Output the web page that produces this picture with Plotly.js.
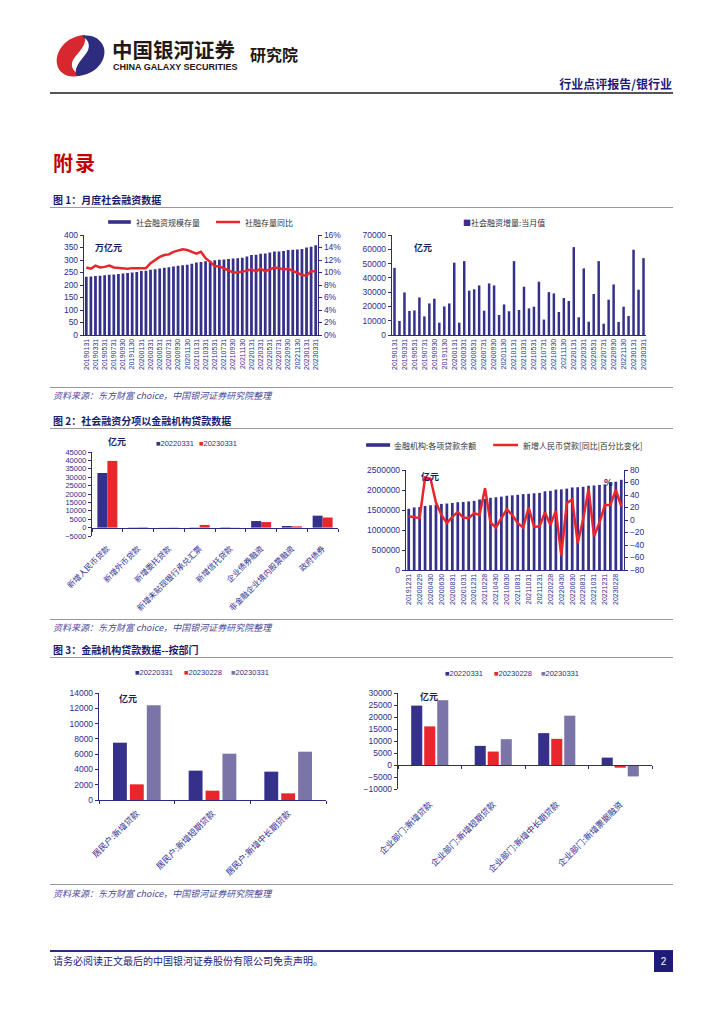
<!DOCTYPE html>
<html><head><meta charset="utf-8">
<script src="https://cdn.plot.ly/plotly-3.0.1.min.js"></script>
<style>
body{margin:0;width:724px;height:1024px;position:relative;background:#fff;font-family:"Noto Sans CJK SC",sans-serif;overflow:hidden}
.abs{position:absolute;white-space:nowrap}
.hline{position:absolute;left:50px;width:623px;height:0}
.fig{position:absolute;left:53px;font-size:10px;font-weight:bold;color:#1c1c6b;white-space:nowrap;line-height:12px}
.src{position:absolute;left:53px;font-size:9px;font-style:italic;color:#4a4a9c;white-space:nowrap;line-height:11px}
.plot{position:absolute}
</style></head><body>

<svg class="abs" style="left:54px;top:32px" width="54" height="48" viewBox="0 0 54 48">
  <path d="M31,3 C12,4 1,19 3,32 C5,43 17,47 27,43 C18,40 15,32 21,25 C27,18 33,11 31,3 Z" fill="#d7282f"/>
  <path d="M23,44 C41,43 53,29 50,16 C47,6 37,2 28,4 C36,8 37,16 31,23 C25,30 19,38 23,44 Z" fill="#2e2c7e"/>
</svg>
<div class="abs" style="left:112px;top:36px;font-size:20.5px;font-weight:bold;color:#231815;line-height:26px">中国银河证券</div>
<div class="abs" style="left:113px;top:62px;font-size:9px;font-weight:bold;color:#231815;font-family:'Liberation Sans',sans-serif;line-height:11px">CHINA GALAXY SECURITIES</div>
<div class="abs" style="left:250px;top:44px;font-size:16px;font-weight:bold;color:#231815;line-height:20px">研究院</div>
<div class="abs" style="right:52px;top:77px;font-size:12px;font-weight:bold;color:#1f1a7a;line-height:14px">行业点评报告/银行业</div>
<div class="hline" style="top:92px;border-top:2px solid #555"></div>

<div class="abs" style="left:53px;top:151px;font-size:20px;font-weight:bold;color:#c00000;line-height:24px;letter-spacing:2px">附录</div>

<div class="fig" style="top:194px">图 1：月度社会融资数据</div>
<div class="hline" style="top:207px;border-top:1.5px solid #999"></div>
<div class="plot" id="c1a" style="left:50px;top:212px"></div>
<div class="plot" id="c1b" style="left:360px;top:212px"></div>
<div class="hline" style="top:387px;border-top:1px solid #999"></div>
<div class="src" style="top:390px">资料来源：东方财富 choice，中国银河证券研究院整理</div>

<div class="fig" style="top:415px">图 2：社会融资分项以金融机构贷款数据</div>
<div class="hline" style="top:428px;border-top:1.5px solid #999"></div>
<div class="plot" id="c2a" style="left:50px;top:430px"></div>
<div class="plot" id="c2b" style="left:355px;top:432px"></div>
<div class="hline" style="top:619px;border-top:1px solid #999"></div>
<div class="src" style="top:622px">资料来源：东方财富 choice，中国银河证券研究院整理</div>

<div class="fig" style="top:644px">图 3：金融机构贷款数据--按部门</div>
<div class="hline" style="top:657px;border-top:1.5px solid #999"></div>
<div class="plot" id="c3a" style="left:50px;top:655px"></div>
<div class="plot" id="c3b" style="left:355px;top:655px"></div>
<div class="hline" style="top:884px;border-top:1px solid #999"></div>
<div class="src" style="top:888px">资料来源：东方财富 choice，中国银河证券研究院整理</div>

<div class="hline" style="top:950px;border-top:2px solid #2b2a85"></div>
<div class="abs" style="left:53px;top:955px;font-size:10px;color:#1f1a7a;line-height:12px">请务必阅读正文最后的中国银河证券股份有限公司免责声明。</div>
<div class="abs" style="left:654px;top:951px;width:19px;height:21px;background:#1e1a78;color:#fff;font-size:10px;text-align:center;line-height:21px;font-family:'Liberation Sans',sans-serif">2</div>

<script>
// ---------- data ----------
const months = [
 '20190131','20190228','20190331','20190430','20190531','20190630','20190731','20190831','20190930','20191031','20191130','20191231',
 '20200131','20200229','20200331','20200430','20200531','20200630','20200731','20200831','20200930','20201031','20201130','20201231',
 '20210131','20210228','20210331','20210430','20210531','20210630','20210731','20210831','20210930','20211031','20211130','20211231',
 '20220131','20220228','20220331','20220430','20220531','20220630','20220731','20220831','20220930','20221031','20221130','20221231',
 '20230131','20230228','20230331'];
// 社会融资规模存量 (万亿元)
const tsfStock = [233,234,236,237,239,241,242,244,246,248,250,252,
 256,257,261,263,266,269,271,274,277,279,281,285,
 290,292,295,297,299,301,302,304,306,307,309,314,
 320,321,325,326,330,334,334,336,340,341,342,344,
 350,353,359];
// 社融存量同比 (%)
const tsfYoY = [10.8,10.6,11.1,10.8,10.9,11.1,10.8,10.7,10.7,10.6,10.7,10.7,
 10.7,10.7,11.5,12.0,12.5,12.8,12.9,13.3,13.5,13.7,13.6,13.3,
 13.0,13.3,12.3,11.7,11.0,11.0,10.7,10.3,10.0,10.0,10.1,10.3,
 10.5,10.2,10.6,10.2,10.5,10.8,10.7,10.5,10.6,10.3,10.0,9.6,
 9.5,10.2,10.2];
// 社会融资增量:当月值 (亿元)
const tsfFlow = [47000,9800,29800,16800,17200,26300,13000,22100,25400,8600,20000,22100,
 50600,8600,51700,31000,32000,34700,17000,36100,34700,14000,21400,16600,
 51700,17500,33800,18600,19800,37300,10800,30000,29100,16100,25900,23800,
 61500,12400,46600,9300,28700,51700,7900,24700,35400,9100,19800,13300,
 59700,31700,53800];

// 图2 左
const tsfItems = ['新增人民币贷款','新增外币贷款','新增委托贷款','新增未贴现银行承兑汇票','新增信托贷款','企业债券融资','非金融企业境内股票融资','政府债券'];
const items2022 = [32500,-150,-80,150,-200,3900,950,7100];
const items2023 = [39700,250,150,1600,100,3300,750,6000];

// 图2 右
const loanMonths = months.slice(11);
const loanBalance = [1531100,
 1564000,1573000,1602000,1619000,1634000,1652000,1662000,1675000,1694000,1701000,1715000,1727500,
 1763000,1777000,1804000,1819000,1834000,1856000,1867000,1880000,1897000,1905000,1918000,1926900,
 1967000,1979000,2011000,2016000,2035000,2064000,2069000,2081000,2106000,2113000,2126000,2139900,
 2189000,2207000,2254500];
const newLoanYoY = [6,4,3,68,66,28,8,-5,5,13,4,3,11,
 8,51,-4,-12,3,17,8,-5,-12,20,-11,-10,
 12,-8,15,-57,27,33,-37,1,50,-26,-4,24,
 24,48,22];

// 图3
const hhCats = ['居民户:新增贷款','居民户:新增短期贷款','居民户:新增中长期贷款'];
const hh20220331 = [7500,3840,3710];
const hh20230228 = [2050,1220,870];
const hh20230331 = [12390,6060,6320];
const corpCats = ['企业部门:新增贷款','企业部门:新增短期贷款','企业部门:新增中长期贷款','企业部门:新增票据融资'];
const corp20220331 = [24750,7970,13290,3080];
const corp20230228 = [16080,5600,10900,-1120];
const corp20230331 = [27000,10770,20560,-4760];

// ---------- style ----------
const navy = '#35308a', red = '#e8262b', lav = '#7b74a8', tickc = '#2e2e8f', axc = '#2e2a80';
const cjk = '"Noto Sans CJK SC", sans-serif';
const num = '"Liberation Sans", "Noto Sans CJK SC", sans-serif';
const cfg = {staticPlot: true};
const base = (w, h, m) => ({
  width: w, height: h, margin: m,
  paper_bgcolor: 'rgba(0,0,0,0)', plot_bgcolor: 'rgba(0,0,0,0)',
  font: {family: num, size: 8, color: tickc}, showlegend: false
});
const yax = (o) => Object.assign({showline: true, linecolor: axc, linewidth: 1.2, ticks: 'outside', ticklen: 3, tickcolor: axc,
  showgrid: false, zeroline: false, tickformat: 'd', tickfont: {size: 8.5, color: tickc}}, o);
const every2 = (arr) => arr.filter((d, i) => i % 2 === 0);
const unit = (t, x, y) => ({text: '<b>' + t + '</b>', xref: 'paper', yref: 'paper', x: x, y: y, showarrow: false,
  xanchor: 'left', yanchor: 'middle', font: {family: cjk, size: 9, color: '#1a1a5e'}});
// legend helpers (paper coordinates)
const legText = (t, x, y, fam, col, sz) => ({text: t, xref: 'paper', yref: 'paper', x: x, y: y, showarrow: false,
  xanchor: 'left', yanchor: 'middle', font: {family: fam || cjk, size: sz || 8, color: col || '#333'}});
const legSq = (name, color, x, y) => legText('<span style="color:' + color + '">■</span>' + name, x, y, num, tickc, 7.5);
const legBar = (x0, x1, y, color) => ({type: 'rect', xref: 'paper', yref: 'paper', x0: x0, x1: x1, y0: y - 0.018, y1: y + 0.018,
  fillcolor: color, line: {width: 0}});
const legLine = (x0, x1, y, color) => ({type: 'line', xref: 'paper', yref: 'paper', x0: x0, x1: x1, y0: y, y1: y,
  line: {color: color, width: 2.5}});

// 图1 左
Plotly.newPlot('c1a', [
  {type: 'bar', x: months, y: tsfStock, name: '社会融资规模存量', marker: {color: navy}},
  {type: 'scatter', mode: 'lines', x: months, y: tsfYoY, name: '社融存量同比', yaxis: 'y2', line: {color: red, width: 2.5}}
], Object.assign(base(300, 170, {l: 34, r: 32, t: 23, b: 47}), {
  bargap: 0.4,
  xaxis: {type: 'category', tickvals: every2(months), tickangle: -90, tickfont: {size: 7, color: tickc}, showline: true, linecolor: axc, ticks: ''},
  yaxis: yax({range: [0, 400], dtick: 50}),
  yaxis2: yax({range: [0, 16], dtick: 2, ticksuffix: '%', overlaying: 'y', side: 'right'}),
  shapes: [legBar(0.103, 0.2, 1.13, navy), legLine(0.564, 0.667, 1.13, red)],
  annotations: [unit('万亿元', 0.04, 0.88), legText('社会融资规模存量', 0.215, 1.13), legText('社融存量同比', 0.68, 1.13)]
}), cfg);

// 图1 右
Plotly.newPlot('c1b', [
  {type: 'bar', x: months, y: tsfFlow, name: '社会融资增量:当月值', marker: {color: navy}}
], Object.assign(base(330, 170, {l: 32, r: 44, t: 23, b: 47}), {
  bargap: 0.5,
  xaxis: {type: 'category', tickvals: every2(months), tickangle: -90, tickfont: {size: 7, color: tickc}, showline: true, linecolor: axc, ticks: ''},
  yaxis: yax({range: [0, 70000], dtick: 10000}),
  annotations: [unit('亿元', 0.08, 0.88),
    legText('<span style="color:' + navy + '">■</span>社会融资增量:当月值', 0.27, 1.13)]
}), cfg);

// 图2 左
Plotly.newPlot('c2a', [
  {type: 'bar', x: tsfItems, y: items2022, name: '20220331', marker: {color: navy}},
  {type: 'bar', x: tsfItems, y: items2023, name: '20230331', marker: {color: red}}
], Object.assign(base(300, 205, {l: 42, r: 12, t: 22, b: 99}), {
  bargap: 0.35, bargroupgap: 0,
  xaxis: {type: 'category', anchor: 'free', position: 0.1, showline: true, linecolor: axc, linewidth: 1.2, ticks: 'outside', tickson: 'boundaries',
    ticklen: 3, tickcolor: axc, tickangle: -45, ticklabelstandoff: 12, tickfont: {family: cjk, size: 8, color: tickc}},
  yaxis: yax({range: [-5000, 45000], dtick: 5000, tickfont: {size: 7.5, color: tickc}}),
  annotations: [unit('亿元', 0.055, 1.12), legSq('20220331', navy, 0.25, 1.107), legSq('20230331', red, 0.425, 1.107)]
}), cfg);

// 图2 右
Plotly.newPlot('c2b', [
  {type: 'bar', x: loanMonths, y: loanBalance, name: '金融机构:各项贷款余额', marker: {color: navy}},
  {type: 'scatter', mode: 'lines', x: loanMonths, y: newLoanYoY, name: '新增人民币贷款[同比|百分比变化]', yaxis: 'y2', line: {color: red, width: 2.5}}
], Object.assign(base(330, 190, {l: 51, r: 61, t: 38, b: 52}), {
  bargap: 0.5,
  xaxis: {type: 'category', tickvals: every2(loanMonths), tickangle: -90, tickfont: {size: 7, color: tickc}, showline: true, linecolor: axc, ticks: ''},
  yaxis: yax({range: [0, 2500000], dtick: 500000}),
  yaxis2: yax({range: [-80, 80], dtick: 20, overlaying: 'y', side: 'right'}),
  shapes: [legBar(-0.183, -0.073, 1.25, navy), legLine(0.4, 0.514, 1.25, red)],
  annotations: [unit('亿元', 0.06, 0.93), unit('%', 0.9, 0.88),
    legText('金融机构:各项贷款余额', -0.062, 1.25), legText('新增人民币贷款[同比|百分比变化]', 0.527, 1.25)]
}), cfg);

// 图3 左
Plotly.newPlot('c3a', [
  {type: 'bar', x: hhCats, y: hh20220331, name: '20220331', marker: {color: navy}},
  {type: 'bar', x: hhCats, y: hh20230228, name: '20230228', marker: {color: red}},
  {type: 'bar', x: hhCats, y: hh20230331, name: '20230331', marker: {color: lav}}
], Object.assign(base(310, 230, {l: 49, r: 34, t: 38, b: 85}), {
  bargap: 0.33, bargroupgap: 0.18,
  xaxis: {type: 'category', showline: true, linecolor: axc, linewidth: 1.2, ticks: 'outside', tickson: 'boundaries', ticklen: 3, tickcolor: axc,
    tickangle: -45, ticklabelstandoff: 4, tickfont: {family: cjk, size: 8.5, color: tickc}},
  yaxis: yax({range: [0, 14000], dtick: 2000}),
  annotations: [unit('亿元', 0.08, 0.95),
    legSq('20220331', navy, 0.15, 1.187), legSq('20230228', red, 0.366, 1.187), legSq('20230331', lav, 0.573, 1.187)]
}), cfg);

// 图3 右
Plotly.newPlot('c3b', [
  {type: 'bar', x: corpCats, y: corp20220331, name: '20220331', marker: {color: navy}},
  {type: 'bar', x: corpCats, y: corp20230228, name: '20230228', marker: {color: red}},
  {type: 'bar', x: corpCats, y: corp20230331, name: '20230331', marker: {color: lav}}
], Object.assign(base(330, 230, {l: 43, r: 33, t: 38, b: 96}), {
  bargap: 0.385, bargroupgap: 0.15,
  xaxis: {type: 'category', anchor: 'free', position: 0.25, showline: true, linecolor: axc, linewidth: 1.2, ticks: 'outside', tickson: 'boundaries',
    ticklen: 3, tickcolor: axc, tickangle: -45, ticklabelstandoff: 30, tickfont: {family: cjk, size: 8.5, color: tickc}},
  yaxis: yax({range: [-10000, 30000], dtick: 5000}),
  annotations: [unit('亿元', 0.08, 0.96),
    legSq('20220331', navy, 0.177, 1.208), legSq('20230228', red, 0.37, 1.208), legSq('20230331', lav, 0.555, 1.208)]
}), cfg);
</script>
</body></html>
